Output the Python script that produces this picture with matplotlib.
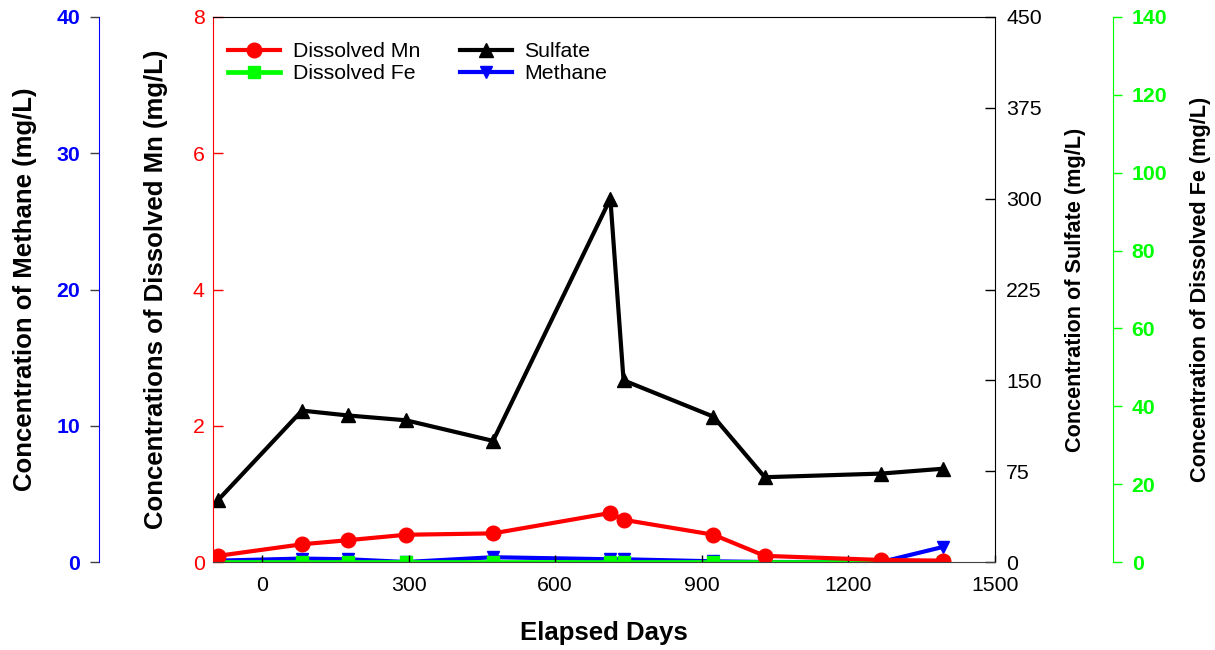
import matplotlib
matplotlib.use("Agg")
import matplotlib.pyplot as plt

plt.rcParams["font.family"] = ["Liberation Sans", "DejaVu Sans"]

# Sampling dates (elapsed days) and measured concentrations
days = [-90, 82, 176, 295, 473, 713, 740, 924, 1029, 1267, 1393]
mn_mgL = [0.09, 0.26, 0.32, 0.40, 0.42, 0.72, 0.62, 0.40, 0.09, 0.03, 0.02]
fe_mgL = [0.0, 0.0, 0.0, 0.0, 0.0, 0.0, 0.0, 0.0, 0.0, 0.0, 0.0]
sulfate_mgL = [51, 125, 121, 117, 100, 300, 150, 120, 70, 73, 77]
methane_mgL = [0.1, 0.25, 0.2, 0.0, 0.35, 0.2, 0.2, 0.05, 0.0, 0.0, 1.1]

x_ticks = [0, 300, 600, 900, 1200, 1500]
mn_ticks = [0, 2, 4, 6, 8]
sulfate_ticks = [0, 75, 150, 225, 300, 375, 450]
methane_ticks = [0, 10, 20, 30, 40]
fe_ticks = [0, 20, 40, 60, 80, 100, 120, 140]

RED, GREEN, BLUE = "#ff0000", "#00ff00", "#0000ff"
W, H = 1215, 650
TICK_FS = 15.3
LEFT_LABEL_FS = 18.5
RIGHT_LABEL_FS = 15.6

fig = plt.figure(figsize=(W / 100, H / 100), dpi=100)
ax = fig.add_axes([213 / W, 88 / H, 782 / W, 545 / H])
ax_s = ax.twinx()
ax_m = ax.twinx()
ax_f = ax.twinx()

# stacking: methane < Fe < sulfate < Mn
ax_m.set_zorder(1)
ax_f.set_zorder(2)
ax_s.set_zorder(3)
ax.set_zorder(4)
for a in (ax, ax_s, ax_f):
    a.patch.set_visible(False)

lw = 3.0
l_me, = ax_m.plot(days, methane_mgL, color=BLUE, lw=lw, marker="v", ms=9,
                  label="Methane")
l_fe, = ax_f.plot(days, fe_mgL, color=GREEN, lw=3.4, marker="s", ms=9,
                  label="Dissolved Fe")
l_su, = ax_s.plot(days, sulfate_mgL, color="black", lw=lw, marker="^", ms=10,
                  label="Sulfate")
l_mn, = ax.plot(days, mn_mgL, color=RED, lw=lw, marker="o", ms=10.5,
                label="Dissolved Mn")

# x axis
ax.set_xlim(-100, 1500)
ax.set_xticks(x_ticks)
ax.tick_params(axis="x", direction="in", length=5, width=1, pad=10,
               labelsize=TICK_FS)
ax.set_xlabel("Elapsed Days", fontsize=LEFT_LABEL_FS, fontweight="bold")
ax.xaxis.set_label_coords(0.5, -0.109)

# Mn axis (left, red)
ax.set_ylim(0, 8)
ax.set_yticks(mn_ticks)
ax.tick_params(axis="y", direction="in", length=7, width=1, colors=RED,
               labelcolor=RED, pad=6, labelsize=TICK_FS)
ax.spines["left"].set_color(RED)
ax.spines["bottom"].set_color("#404040")
ax.spines["top"].set_color("black")
ax.spines["right"].set_visible(False)
ax.set_ylabel("Concentrations of Dissolved Mn (mg/L)", fontsize=LEFT_LABEL_FS,
              fontweight="bold")
ax.yaxis.set_label_coords((168 - 213) / 782, 0.5)

# Sulfate axis (right, black)
ax_s.set_ylim(0, 450)
ax_s.set_yticks(sulfate_ticks)
ax_s.tick_params(axis="y", direction="in", length=7, width=1, pad=8,
                 labelsize=TICK_FS)
for s in ("left", "top", "bottom"):
    ax_s.spines[s].set_visible(False)
ax_s.spines["right"].set_color("black")
ax_s.set_ylabel("Concentration of Sulfate (mg/L)", fontsize=RIGHT_LABEL_FS,
                fontweight="bold")
ax_s.yaxis.set_label_coords((1065 - 213) / 782, 0.5)

# Methane axis (offset left, blue)
ax_m.set_ylim(0, 40)
ax_m.set_yticks(methane_ticks)
ax_m.yaxis.set_label_position("left")
ax_m.yaxis.set_ticks_position("left")
for s in ("right", "top", "bottom"):
    ax_m.spines[s].set_visible(False)
ax_m.spines["left"].set_position(("axes", (99 - 213) / 782))
ax_m.spines["left"].set_color(BLUE)
ax_m.tick_params(axis="y", direction="out", length=6.5, width=1,
                 color="#404040", labelcolor=BLUE, pad=7, labelsize=TICK_FS)
for t in ax_m.get_yticklabels():
    t.set_fontweight("bold")
ax_m.set_ylabel("Concentration of Methane (mg/L)", fontsize=LEFT_LABEL_FS,
                fontweight="bold")
ax_m.yaxis.set_label_coords((37 - 213) / 782, 0.5)

# Fe axis (offset right, green)
ax_f.set_ylim(0, 140)
ax_f.set_yticks(fe_ticks)
for s in ("left", "top", "bottom"):
    ax_f.spines[s].set_visible(False)
ax_f.spines["right"].set_position(("axes", (1113 - 213) / 782))
ax_f.spines["right"].set_color(GREEN)
ax_f.tick_params(axis="y", direction="out", length=6.5, width=1,
                 colors=GREEN, labelcolor=GREEN, pad=7, labelsize=TICK_FS)
for t in ax_f.get_yticklabels():
    t.set_fontweight("bold")
ax_f.set_ylabel("Concentration of Dissolved Fe (mg/L)",
                fontsize=RIGHT_LABEL_FS, fontweight="bold")
ax_f.yaxis.set_label_coords((1190 - 213) / 782, 0.5)

ax.legend(handles=[l_mn, l_fe, l_su, l_me], ncol=2, loc="upper left",
          bbox_to_anchor=(15 / 782, (562 - 42) / 545), frameon=False,
          fontsize=15.3, handlelength=2.45, handletextpad=0.6,
          columnspacing=1.85, labelspacing=0.14, borderpad=0,
          borderaxespad=0)

fig.savefig("out.png", dpi=100)
